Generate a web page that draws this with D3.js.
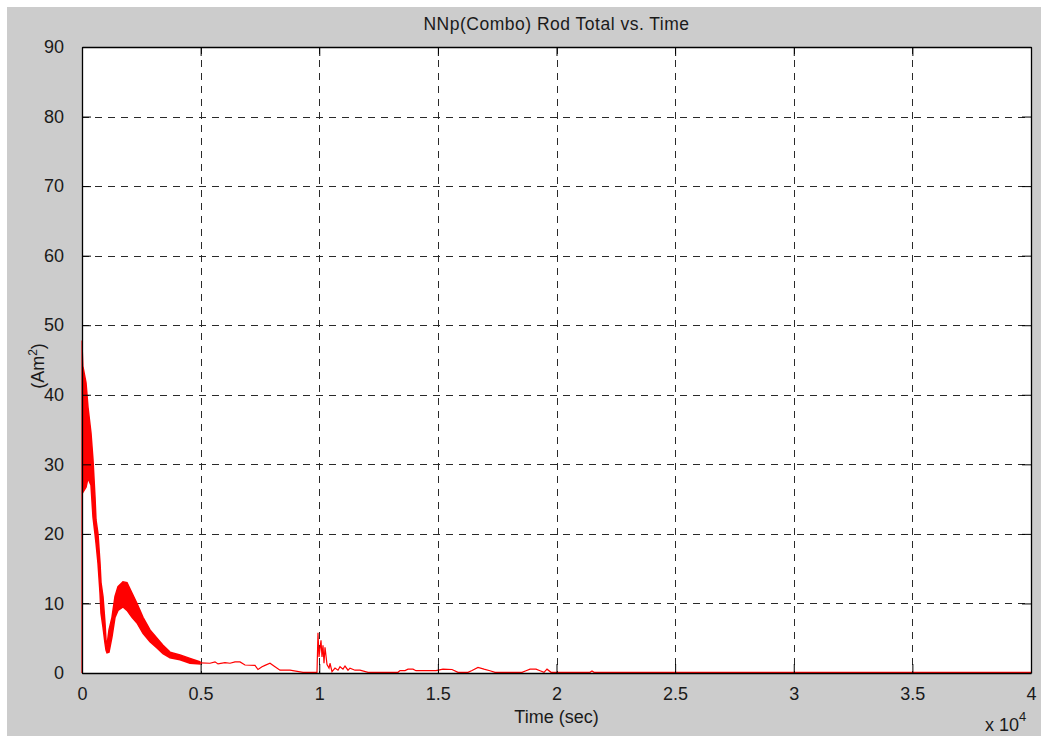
<!DOCTYPE html>
<html><head><meta charset="utf-8">
<script src="https://cdn.jsdelivr.net/npm/d3@7"></script>
<style>
body{margin:0;background:#fff}
svg{display:block}
text{font-family:"Liberation Sans",Arial,Helvetica,sans-serif;fill:#1a1a1a}
</style>
</head><body>
<svg id="chart" width="1041" height="736"></svg>
<script>
// ---- data ----
const titleText = "NNp(Combo) Rod Total vs. Time";
const xLabelText = "Time (sec)";
const xTicks = [0, 5000, 10000, 15000, 20000, 25000, 30000, 35000, 40000];
const xTickLabels = ["0", "0.5", "1", "1.5", "2", "2.5", "3", "3.5", "4"];
const yTicks = [0, 10, 20, 30, 40, 50, 60, 70, 80, 90];

// initial spike at t = 0
const startTime  = [0, 0, 42];
const startValue = [0, 47.8, 44];

// fast-oscillation band: upper and lower envelope
const bandTime  = [42, 169, 253, 379, 464, 548, 590, 674, 759, 801, 885, 969, 1012, 1054, 1138, 1264, 1391, 1517, 1728, 1897, 2107, 2318, 2571, 2866, 3161, 3414, 3709, 4131, 4552, 4973];
const bandUpper = [44, 41.7, 38.2, 34.5, 30.6, 25.3, 22, 20, 15.8, 13, 11, 7.2, 4.7, 4, 6.2, 8, 11, 12.4, 13.1, 13, 11.5, 10, 8, 6.2, 5, 4, 3, 2.6, 2.1, 1.6];
const bandLower = [26, 26.7, 28, 27, 22.4, 20, 18.7, 15.8, 11.5, 8.6, 6.6, 4.3, 3.3, 2.9, 3, 5.2, 8, 9, 9.5, 9, 8, 7.2, 5.7, 4.5, 3.6, 2.8, 2.2, 1.9, 1.4, 1.3];

// tail after the band
const tailTime  = [4973, 5395, 5606, 5732, 6027, 6238, 6449, 6660, 6870, 7292, 7418, 7587, 7713, 7924, 8135, 8346, 8767, 9315, 9905, 9947, 9990, 10074, 10116, 10158, 10200, 10243, 10327, 10411, 10453, 10538, 10664, 10790, 10875, 11001, 11086, 11212, 11296, 11507, 11718, 12055, 13320, 13404, 13615, 13741, 13952, 14078, 14921, 15216, 15596, 15848, 16270, 16439, 16691, 16944, 17197, 17408, 18546, 18715, 18884, 19137, 19306, 19474, 19600, 19769, 21412, 21496, 21580, 40000];
const tailValue = [1.45, 1.4, 1.6, 1.3, 1.5, 1.4, 1.6, 1.6, 1.15, 1.1, 0.5, 0.9, 1.1, 1.4, 0.9, 0.4, 0.4, 0.1, 0.1, 5.8, 2.3, 4.7, 2.3, 4.0, 1.4, 3.7, 1.2, 0.7, 1.4, 0.2, 0.7, 0.4, 0.9, 0.55, 1.0, 0.4, 0.7, 0.4, 0.4, 0.1, 0.1, 0.35, 0.35, 0.55, 0.55, 0.33, 0.33, 0.55, 0.5, 0.1, 0.1, 0.35, 0.8, 0.55, 0.33, 0.1, 0.1, 0.33, 0.55, 0.55, 0.33, 0.1, 0.55, 0.1, 0.1, 0.3, 0.1, 0.1];

// ---- drawing ----
const W = 1041, H = 736;
const L = 82, R = 1031, T = 47, B = 673;
const svg = d3.select("#chart");

svg.append("rect").attr("x", 7).attr("y", 7).attr("width", W - 7).attr("height", H - 7).attr("fill", "#cccccc");
svg.append("rect").attr("x", L).attr("y", T).attr("width", R - L).attr("height", B - T).attr("fill", "#ffffff");

const x = d3.scaleLinear().domain([0, 40000]).range([L, R]);
const y = d3.scaleLinear().domain([0, 90]).range([B, T]);

const gridColor = "#2a2a2a";
// grid
svg.append("g").selectAll("line").data(xTicks.slice(1, -1)).join("line")
  .attr("x1", d => Math.round(x(d)) + 0.5).attr("x2", d => Math.round(x(d)) + 0.5)
  .attr("y1", T).attr("y2", B)
  .attr("stroke", gridColor).attr("stroke-width", 1).attr("stroke-dasharray", "7,6");
svg.append("g").selectAll("line").data(yTicks.slice(1, -1)).join("line")
  .attr("y1", d => Math.round(y(d)) + 0.5).attr("y2", d => Math.round(y(d)) + 0.5)
  .attr("x1", L).attr("x2", R)
  .attr("stroke", gridColor).attr("stroke-width", 1).attr("stroke-dasharray", "7,6");

// data
const red = "#ff0000";
const band = bandTime.map((t, i) => ({t, u: bandUpper[i], l: bandLower[i]}));
svg.append("path").datum(band)
  .attr("d", d3.area().x(d => x(d.t)).y0(d => y(d.l)).y1(d => y(d.u)))
  .attr("fill", red).attr("stroke", red).attr("stroke-width", 1.5);

const line = d3.line().x(d => x(d[0])).y(d => y(d[1]));
svg.append("path").datum(startTime.map((t, i) => [t, startValue[i]]))
  .attr("d", line).attr("fill", "none").attr("stroke", red).attr("stroke-width", 1.2);
svg.append("path").datum(tailTime.map((t, i) => [t, tailValue[i]]))
  .attr("d", line).attr("fill", "none").attr("stroke", red).attr("stroke-width", 1.2);

// axes box & ticks
const axG = svg.append("g");
axG.append("g").attr("transform", `translate(0,${B})`)
  .call(d3.axisBottom(x).tickValues(xTicks).tickSizeInner(-9).tickSizeOuter(0).tickPadding(14).tickFormat((d, i) => xTickLabels[i]));
axG.append("g").attr("transform", `translate(0,${T})`)
  .call(d3.axisTop(x).tickValues(xTicks).tickSizeInner(-9).tickSizeOuter(0).tickFormat(""));
axG.append("g").attr("transform", `translate(${L},0)`)
  .call(d3.axisLeft(y).tickValues(yTicks).tickSizeInner(-9).tickSizeOuter(0).tickPadding(18).tickFormat(d3.format("d")));
axG.append("g").attr("transform", `translate(${R},0)`)
  .call(d3.axisRight(y).tickValues(yTicks).tickSizeInner(-9).tickSizeOuter(0).tickFormat(""));
axG.selectAll(".domain").attr("stroke", "#000").attr("stroke-width", 1.3);
axG.selectAll(".tick line").attr("stroke", "#000");
axG.selectAll(".tick text").attr("font-size", 18).attr("fill", "#1a1a1a")
  .attr("font-family", "'Liberation Sans', Arial, sans-serif");

// titles
svg.append("text").attr("x", (L + R) / 2).attr("y", 30).attr("text-anchor", "middle")
  .attr("font-size", 17.5).attr("letter-spacing", 0.5).text(titleText);
svg.append("text").attr("x", (L + R) / 2).attr("y", 723).attr("text-anchor", "middle")
  .attr("font-size", 18).text(xLabelText);
const yl = svg.append("text").attr("transform", "translate(44,366) rotate(-90)")
  .attr("text-anchor", "middle").attr("font-size", 18);
yl.append("tspan").text("(Am");
yl.append("tspan").attr("font-size", 12).attr("dy", -7).text("2");
yl.append("tspan").attr("dy", 7).text(")");

const ex = svg.append("text").attr("x", 985).attr("y", 731).attr("font-size", 18);
ex.append("tspan").text("x 10");
ex.append("tspan").attr("font-size", 13).attr("dy", -10).text("4");
</script>
</body></html>
